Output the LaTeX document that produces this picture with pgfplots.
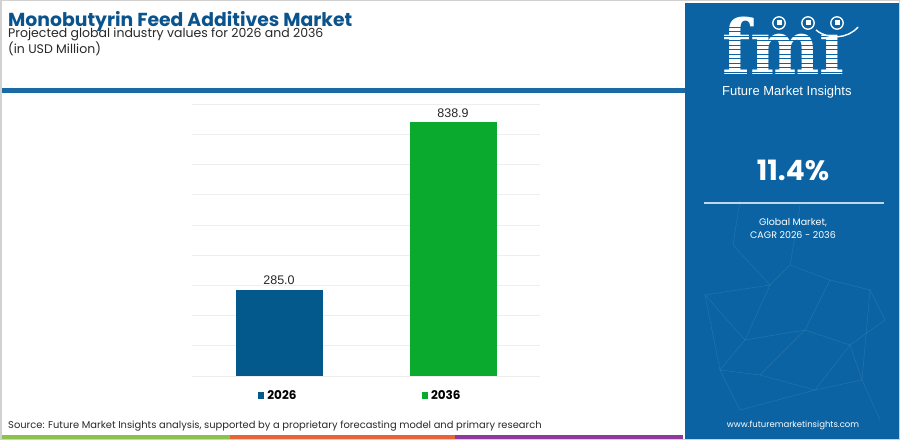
\documentclass[border=0pt]{standalone}
\usepackage{fontspec}
\setmainfont{Poppins}
\newfontfamily\arial{Liberation Sans}
\newfontfamily\logofont{DejaVu Serif}
\usepackage{pgfplots}
\pgfplotsset{compat=1.18}
\definecolor{panelblue}{RGB}{11,99,163}
\definecolor{titleblue}{RGB}{11,83,140}
\definecolor{linecol}{RGB}{26,106,166}
\definecolor{cA}{RGB}{4,89,140}
\definecolor{cB}{RGB}{10,170,46}
\definecolor{gridgray}{RGB}{238,238,238}
\definecolor{sgreen}{RGB}{139,195,74}
\definecolor{sorange}{RGB}{230,100,55}
\definecolor{spurple}{RGB}{142,58,157}
\definecolor{txtgray}{RGB}{40,40,40}
\begin{document}
\begin{tikzpicture}[x=1pt,y=1pt]
\path[use as bounding box] (0,0) rectangle (900,440);
\fill[white] (0,0) rectangle (900,440);
% header rule
\fill[linecol] (0,347) rectangle (685,352);
% right panel
\fill[panelblue] (685,0) rectangle (900,437);
% network pattern
\begin{scope}[white, opacity=0.1, line width=0.5pt]
\draw (733,195) -- (770,155) -- (705,145) -- (745,100) -- (770,155);
\draw (770,155) -- (790,175) -- (830,160) -- (870,150) -- (885,120) -- (850,95) -- (805,110) -- (830,160);
\draw (805,110) -- (760,65) -- (720,70) -- (745,100) -- (805,110);
\draw (760,65) -- (815,50) -- (862,60) -- (850,95);
\draw (815,50) -- (850,95);
\draw (720,70) -- (740,30) -- (815,50);
\draw (862,60) -- (880,20);
\draw (705,145) -- (720,70);
\draw (870,150) -- (862,60);
\draw (733,195) -- (740,240);
\draw (790,175) -- (800,235);
\end{scope}
% logo
\node[anchor=base west, inner sep=0, text=white] at (722,365) {\scalebox{0.84}[0.97]{\logofont\bfseries\fontsize{78}{78}\selectfont fm\char"0131}};
\foreach \yy in {367,371.5,...,414} {\fill[panelblue] (718,\yy) rectangle (880,\yy+1.3);}
\foreach \cx in {779,808,837} {\draw[white, line width=1.3pt] (\cx,417) circle (6.2); \fill[white] (\cx-2.5,415) rectangle (\cx+2.5,419.5);}
\draw[white, line width=1.4pt] (816,410) .. controls (828,400) and (848,401) .. (858,413);
\node[anchor=base west, inner sep=0, text=white, font=\arial\fontsize{13}{14}\selectfont] at (722,344) {Future Market Insights};
\node[anchor=base, inner sep=0, text=white, font=\bfseries\fontsize{28}{30}\selectfont] at (793,260) {11.4\%};
\draw[white, opacity=0.75, line width=1.3pt] (704,237) -- (884,237);
\node[anchor=base, inner sep=0, text=white, font=\fontsize{9.5}{11}\selectfont] at (793,215) {Global Market,};
\node[anchor=base, inner sep=0, text=white, font=\fontsize{9.5}{11}\selectfont] at (793,202) {CAGR 2026 - 2036};
\node[anchor=base, inner sep=0, text=white, font=\fontsize{8.5}{10}\selectfont] at (793,13) {www.futuremarketinsights.com};
% titles
\node[anchor=base west, inner sep=0, text=titleblue, font=\bfseries\fontsize{18.8}{22}\selectfont] at (8,413) {Monobutyrin Feed Additives Market};
\node[anchor=base west, inner sep=0, text=txtgray, font=\fontsize{12.5}{14}\selectfont] at (8,402) {Projected global industry values for 2026 and 2036};
\node[anchor=base west, inner sep=0, text=txtgray, font=\fontsize{12.5}{14}\selectfont] at (8,386) {(in USD Million)};
% source
\node[anchor=base west, inner sep=0, text=txtgray, font=\fontsize{9.9}{12}\selectfont] at (8,12) {Source: Future Market Insights analysis, supported by a proprietary forecasting model and primary research};
% bottom stripes
\fill[sgreen] (0,0) rectangle (230,5);
\fill[sorange] (230,0) rectangle (455,5);
\fill[spurple] (455,0) rectangle (683,5);
% frame
\draw[black!18, line width=1.5pt] (0.75,0.75) rectangle (899.25,439.25);
\begin{axis}[
  at={(192pt,64pt)}, anchor=south west,
  width=348pt, height=272pt, scale only axis,
  ymin=0, ymax=900, xmin=-0.5, xmax=1.5,
  ytick={0,100,...,900}, yticklabels={}, xtick=\empty,
  ymajorgrids, grid style={color=gridgray, line width=0.7pt},
  axis line style={draw=none}, major tick style={draw=none},
  ybar, bar width=87pt, bar shift=0pt,
  nodes near coords,
  /pgf/number format/.cd, fixed, fixed zerofill, precision=1, assume math mode=true,
  /pgfplots/.cd,
  every node near coord/.append style={font=\arial\fontsize{12.5}{14}\selectfont, text=txtgray, yshift=1.5pt},
  legend columns=2,
  legend style={at={(axis description cs:0.18,-0.073)}, anchor=west, draw=none, fill=none,
    font=\bfseries\fontsize{12}{14}\selectfont, /tikz/every even column/.append style={column sep=123pt}},
]
\addplot[fill=cA, draw=none, legend image code/.code={\fill[cA] (0pt,-3.5pt) rectangle (6.5pt,3.5pt);}] coordinates {(0,285.0)};
\addplot[fill=cB, draw=none, legend image code/.code={\fill[cB] (0pt,-3.5pt) rectangle (6.5pt,3.5pt);}] coordinates {(1,838.9)};
\legend{\hspace{1pt}2026,\hspace{1pt}2036}
\end{axis}
\end{tikzpicture}
\end{document}
